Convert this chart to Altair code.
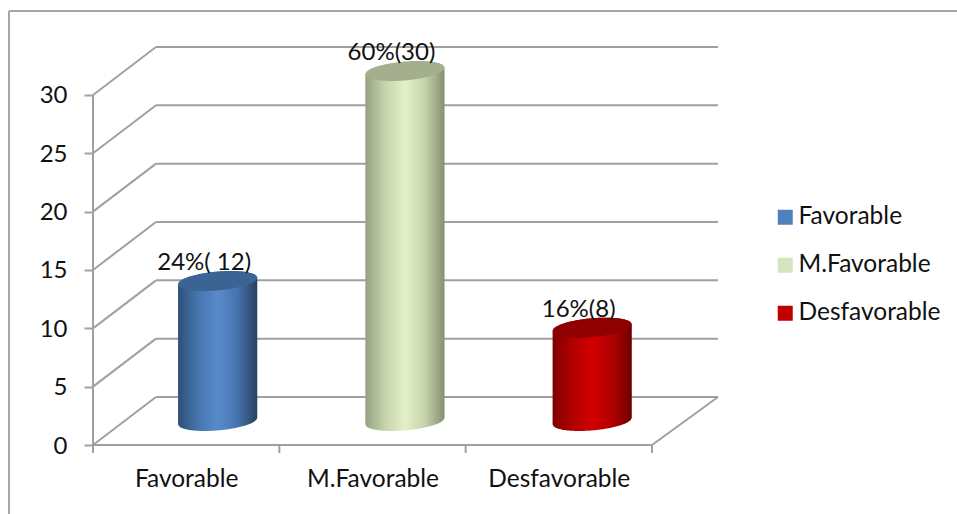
import numpy as np
import pandas as pd
import altair as alt

categories = ["Favorable", "M.Favorable", "Desfavorable"]
values = [12, 30, 8]
value_labels = ["24%( 12)", "60%(30)", "16%(8)"]
y_ticks = [0, 5, 10, 15, 20, 25, 30]
x_boundaries = [0, 1, 2, 3]
legend_colors = ["#4f81bd", "#d7e4bd", "#c00000"]
top_colors = ["#3b6494", "#a4af8e", "#8f0000"]
body_stops = [
    ["#2f4f7a", "#4674ad", "#598bcc", "#4674ad", "#27405f"],
    ["#95a283", "#c6d3ab", "#e4f0c9", "#c6d3ab", "#858f72"],
    ["#7f0000", "#b00000", "#d20000", "#b00000", "#6f0000"],
]

FONT = "Lato"
TEXT = "#111111"
LINE = "#a0a0a0"
PX_X, PX_Y = 186.33, 11.667          # pixels per data unit
PLOT_W, PLOT_H = 625, 398

# depth of the 3D box, expressed in data units
depth_left, depth_right = 63 / PX_X, 66 / PX_X
depth_y = 48 / PX_Y

x_scale = alt.Scale(domain=[0, PLOT_W / PX_X], nice=False, zero=False)
y_scale = alt.Scale(domain=[0, PLOT_H / PX_Y], nice=False, zero=False)

# wall, floor and axis lines
segments = []
for t in y_ticks:
    segments.append(dict(x=0, x2=depth_left, y=t, y2=t + depth_y))
    segments.append(dict(x=depth_left, x2=3 + depth_right, y=t + depth_y, y2=t + depth_y))
segments.append(dict(x=0, x2=3, y=0, y2=0))
segments.append(dict(x=3, x2=3 + depth_right, y=0, y2=depth_y))
segments.append(dict(x=0, x2=0, y=0, y2=30))
for b in x_boundaries:
    segments.append(dict(x=b, x2=b, y=0, y2=-8 / PX_Y))

base_x = alt.X("x:Q", scale=x_scale)
base_y = alt.Y("y:Q", scale=y_scale)

lines = alt.Chart(pd.DataFrame(segments)).mark_rule(color=LINE, strokeWidth=2).encode(
    x=alt.X("x:Q", scale=x_scale, axis=alt.Axis(
        values=[0.5, 1.5, 2.5],
        labelExpr="['Favorable','M.Favorable','Desfavorable'][floor(datum.value)]",
        title=None, domain=False, ticks=False, grid=False, labelFont=FONT,
        labelFontSize=24.5, labelColor=TEXT, labelPadding=22,
        labelBaseline="top", labelFlush=False, labelOverlap=False)),
    x2="x2:Q",
    y=alt.Y("y:Q", scale=y_scale, axis=alt.Axis(
        values=y_ticks, title=None, domain=False, grid=False, tickSize=9,
        tickColor=LINE, tickWidth=2, labelFont=FONT, labelFontSize=24,
        labelColor=TEXT, labelPadding=17, labelOffset=1)),
    y2="y2:Q",
)

# skewed ellipse of a cylinder cross-section lying on the floor plane
RX, RDX, RDY = 37.4 / PX_X, 13 / PX_X, 10 / PX_Y
R = float(np.hypot(RX, RDX))
PHI = float(np.arctan2(RDX, RX))


def rim(center_x, center_y):
    s = np.linspace(-R, R, 81)
    a = np.arccos(np.clip(s / R, -1, 1))
    return pd.DataFrame({
        "x": center_x + s,
        "upper": center_y + RDY * np.sin(PHI + a),
        "lower": center_y + RDY * np.sin(PHI - a),
    })


layers = [lines]
label_rows = []
for i, (v, lab) in enumerate(zip(values, value_labels)):
    cx = 0.5 + i * 1.005 + depth_left / 2
    base = depth_y / 2
    low = rim(cx, base)
    top = rim(cx, base + v)
    body = pd.DataFrame({"x": low["x"], "y": low["lower"], "y2": top["upper"]})
    gradient = alt.Gradient(
        gradient="linear", x1=0, x2=1, y1=0, y2=0,
        stops=[alt.GradientStop(offset=o, color=c)
               for o, c in zip([0, 0.25, 0.5, 0.75, 1], body_stops[i])],
    )
    layers.append(alt.Chart(body).mark_area(color=gradient, opacity=1).encode(
        x=base_x, y=base_y, y2="y2:Q"))
    layers.append(alt.Chart(top).mark_area(color=top_colors[i], opacity=1).encode(
        x=base_x, y=alt.Y("upper:Q", scale=y_scale), y2="lower:Q"))
    label_rows.append(dict(x=cx - 13.5 / PX_X, y=base + v + 18 / PX_Y, t=lab))

labels = alt.Chart(pd.DataFrame(label_rows)).mark_text(
    font=FONT, fontSize=24, color=TEXT, align="center", baseline="middle"
).encode(x=base_x, y=base_y, text="t:N")
layers.append(labels)

# invisible points carrying the colour legend
legend_layer = alt.Chart(pd.DataFrame({"c": categories, "v": values})).mark_square(
    size=0, opacity=1
).encode(
    x=alt.X("v:Q", scale=x_scale),
    y=alt.Y("v:Q", scale=y_scale),
    color=alt.Color("c:N", scale=alt.Scale(domain=categories, range=legend_colors),
                    legend=alt.Legend(
                        title=None, orient="none", legendX=680, legendY=158,
                        symbolType="square", symbolSize=225, symbolStrokeWidth=0,
                        labelFont=FONT, labelFontSize=24.5, labelColor=TEXT,
                        labelOffset=1, rowPadding=23, padding=0,
                        labelLimit=220)),
)
layers.append(legend_layer)

# chart-area frame: only the top and left edges fall inside the page
frame_top = alt.Chart(pd.DataFrame({"a": [0]})).mark_rule(color="#a6a6a6", strokeWidth=2).encode(
    x=alt.value(-84), x2=alt.value(864), y=alt.value(-36))
frame_left = alt.Chart(pd.DataFrame({"a": [0]})).mark_rule(color="#a6a6a6", strokeWidth=2).encode(
    x=alt.value(-84), y=alt.value(-36), y2=alt.value(468))
layers += [frame_top, frame_left]

chart = alt.layer(*layers).properties(
    width=PLOT_W,
    height=PLOT_H,
    padding={"left": 93, "top": 47, "right": 239, "bottom": 69},
    autosize=alt.AutoSizeParams(type="none"),
    background="white",
).configure_view(stroke=None)

chart.save("out.html", embed_options={"renderer": "svg", "actions": False})
